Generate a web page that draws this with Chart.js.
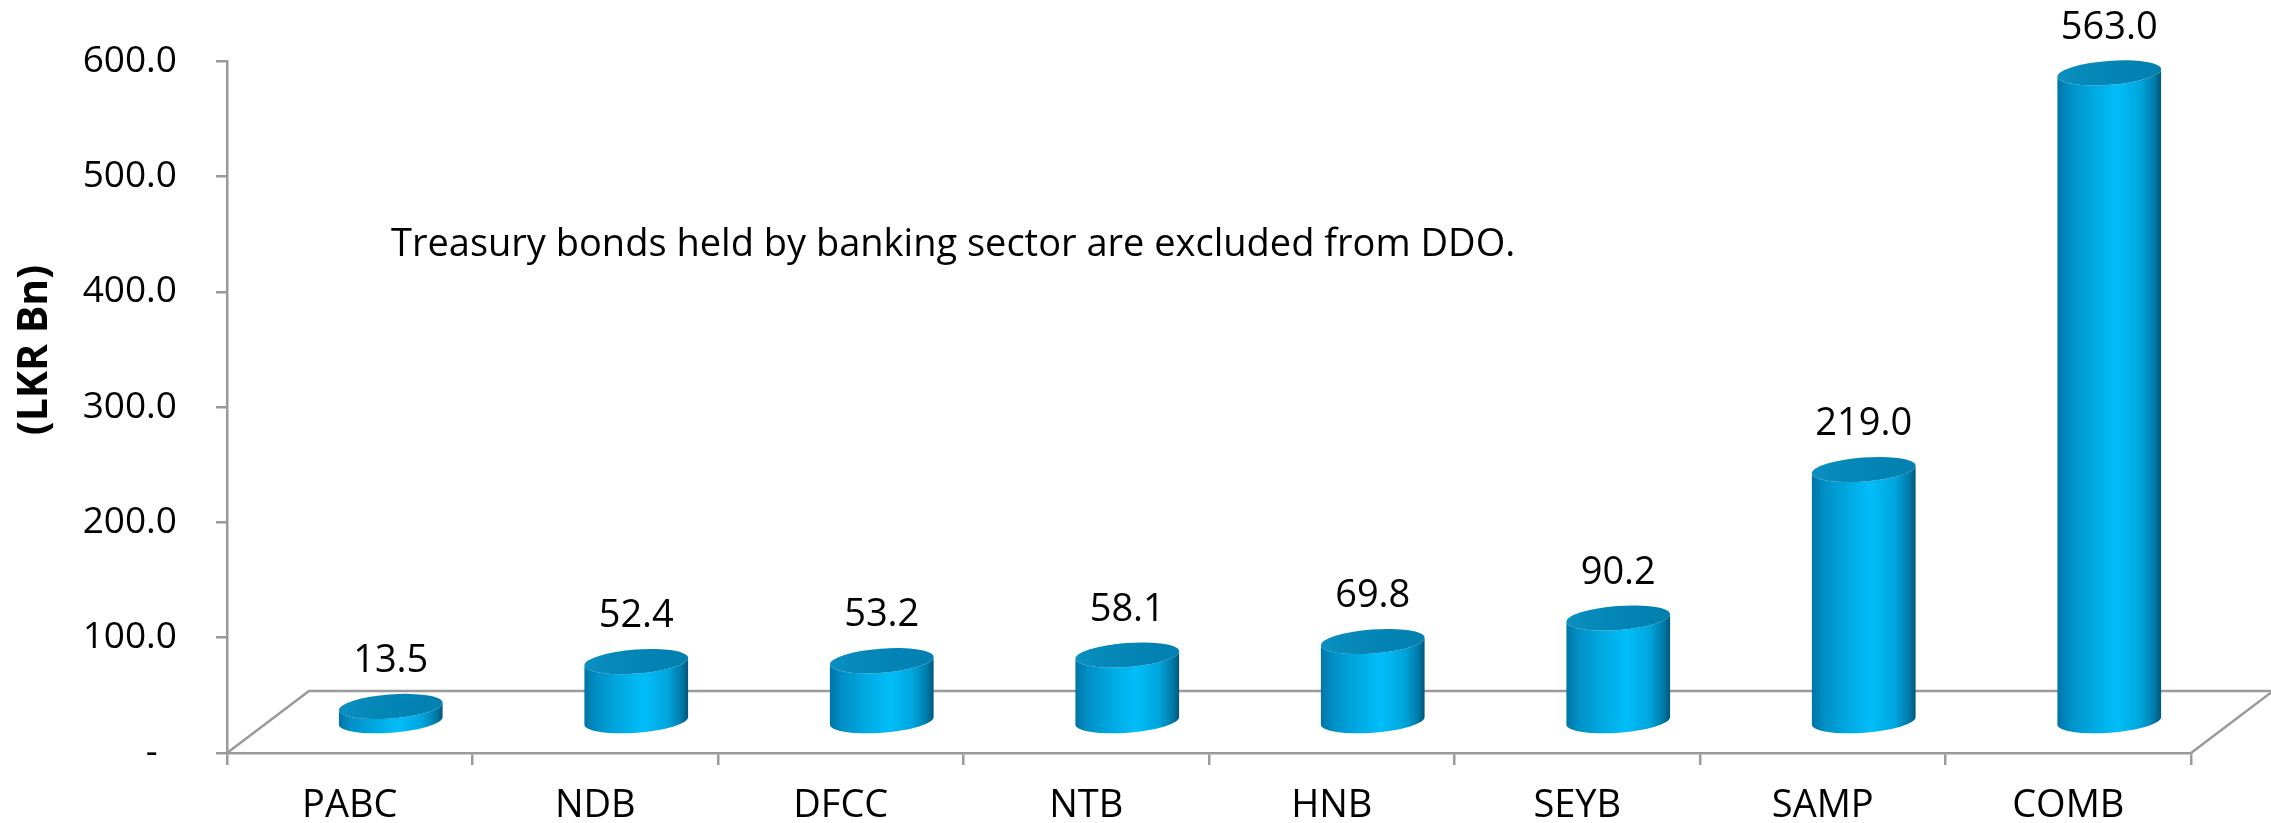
<!DOCTYPE html>
<html>
<head>
<meta charset="utf-8">
<script src="https://cdn.jsdelivr.net/npm/chart.js@4.4.1/dist/chart.umd.min.js"></script>
<style>
  html, body { margin: 0; padding: 0; background: #ffffff; }
  #wrap { width: 2271px; height: 823px; position: relative; }
  canvas { display: block; }
</style>
</head>
<body>
<div id="wrap"><canvas id="c" width="2271" height="823"></canvas></div>
<script>
// ---- data ----
const categories = ['PABC', 'NDB', 'DFCC', 'NTB', 'HNB', 'SEYB', 'SAMP', 'COMB'];
const values = [13.5, 52.4, 53.2, 58.1, 69.8, 90.2, 219.0, 563.0];
const yTickValues = [0, 100, 200, 300, 400, 500, 600];
const yAxisTitle = '(LKR Bn)';
const note = 'Treasury bonds held by banking sector are excluded from DDO.';

// ---- style constants ----
const FONT = "'Open Sans', 'Noto Sans', sans-serif";
const AXIS_GRAY = '#9a9a9a';
const DEPTH_X = 82, DEPTH_Y = 62;
const CYL_RX = 52, CYL_RY = 12, CYL_TILT = -0.075;

const floorPlugin = {
  id: 'floor3d',
  beforeDatasetsDraw(chart) {
    const { ctx, chartArea: a } = chart;
    ctx.save();
    ctx.strokeStyle = AXIS_GRAY;
    ctx.lineWidth = 2.5;
    ctx.beginPath();
    ctx.moveTo(a.left, a.bottom);
    ctx.lineTo(a.left + DEPTH_X, a.bottom - DEPTH_Y);
    ctx.lineTo(a.right + DEPTH_X, a.bottom - DEPTH_Y);
    ctx.lineTo(a.right, a.bottom);
    ctx.stroke();
    ctx.restore();
  }
};

function ellPoint(cx, cy, ang) {
  const c = Math.cos(CYL_TILT), s = Math.sin(CYL_TILT);
  const ex = CYL_RX * Math.cos(ang), ey = CYL_RY * Math.sin(ang);
  return [cx + ex * c - ey * s, cy + ex * s + ey * c];
}

const cylinderPlugin = {
  id: 'cylinders',
  afterDatasetsDraw(chart) {
    const { ctx } = chart;
    const meta = chart.getDatasetMeta(0);
    ctx.save();
    meta.data.forEach((bar, i) => {
      const cx = bar.x + DEPTH_X / 2;
      const topY = bar.y - DEPTH_Y / 2;
      const baseY = bar.base - DEPTH_Y / 2;
      const tl = ellPoint(cx, topY, Math.PI);
      const br = ellPoint(cx, baseY, 0);
      const g = ctx.createLinearGradient(cx - CYL_RX, 0, cx + CYL_RX, 0);
      g.addColorStop(0, '#0074A6');
      g.addColorStop(0.12, '#0090C6');
      g.addColorStop(0.35, '#00A9E2');
      g.addColorStop(0.58, '#00BEF9');
      g.addColorStop(0.8, '#00A6DE');
      g.addColorStop(0.94, '#0078A6');
      g.addColorStop(1, '#005678');
      ctx.beginPath();
      ctx.moveTo(tl[0], tl[1]);
      ctx.ellipse(cx, topY, CYL_RX, CYL_RY, CYL_TILT, Math.PI, 0, true);
      ctx.lineTo(br[0], br[1]);
      ctx.ellipse(cx, baseY, CYL_RX, CYL_RY, CYL_TILT, 0, Math.PI, false);
      ctx.closePath();
      ctx.fillStyle = g;
      ctx.fill();
      const gt = ctx.createLinearGradient(cx - CYL_RX, 0, cx + CYL_RX, 0);
      gt.addColorStop(0, '#0A8FC0');
      gt.addColorStop(0.5, '#0385B5');
      gt.addColorStop(1, '#0280B0');
      ctx.beginPath();
      ctx.ellipse(cx, topY, CYL_RX, CYL_RY, CYL_TILT, 0, Math.PI * 2);
      ctx.fillStyle = gt;
      ctx.fill();
      ctx.fillStyle = '#000000';
      ctx.font = '38px ' + FONT;
      ctx.textAlign = 'center';
      ctx.textBaseline = 'middle';
      ctx.fillText(values[i].toFixed(1), cx, topY - 45);
    });
    // note text
    ctx.font = '38px ' + FONT;
    ctx.textAlign = 'left';
    ctx.textBaseline = 'alphabetic';
    ctx.fillStyle = '#000000';
    ctx.fillText(note, 391, 256);
    // y axis title
    ctx.save();
    ctx.translate(35, 350);
    ctx.rotate(-Math.PI / 2);
    ctx.font = 'bold 41px ' + FONT;
    ctx.textAlign = 'center';
    ctx.textBaseline = 'middle';
    ctx.fillText(yAxisTitle, 0, 0);
    ctx.restore();
    ctx.restore();
  }
};

new Chart(document.getElementById('c'), {
  type: 'bar',
  data: {
    labels: categories,
    datasets: [{
      data: values,
      backgroundColor: 'rgba(0,0,0,0)',
      borderWidth: 0
    }]
  },
  options: {
    responsive: false,
    devicePixelRatio: 1,
    animation: false,
    layout: { padding: { top: 55, right: 80, left: 0, bottom: 0 } },
    plugins: { legend: { display: false }, tooltip: { enabled: false } },
    scales: {
      x: {
        type: 'category',
        offset: true,
        grid: { offset: true, drawOnChartArea: false, drawTicks: true, tickLength: 12, color: AXIS_GRAY, lineWidth: 2.5 },
        border: { display: true, color: AXIS_GRAY, width: 2.5 },
        ticks: { color: '#000000', font: { family: FONT, size: 38 }, padding: 18, maxRotation: 0 },
        afterFit(s) { s.height = 70; }
      },
      y: {
        min: 0,
        max: 600,
        afterBuildTicks(s) { s.ticks = yTickValues.map(v => ({ value: v })); },
        grid: { drawOnChartArea: false, drawTicks: true, tickLength: 11, color: AXIS_GRAY, lineWidth: 2.5 },
        border: { display: true, color: AXIS_GRAY, width: 2.5 },
        ticks: {
          color: '#000000',
          font: { family: FONT, size: 37 },
          padding: 39,
          callback: (v) => v === 0 ? '-  ' : Number(v).toFixed(1)
        },
        title: { display: false },
        afterFit(s) { s.width = 227; }
      }
    }
  },
  plugins: [floorPlugin, cylinderPlugin]
});
</script>
</body>
</html>
